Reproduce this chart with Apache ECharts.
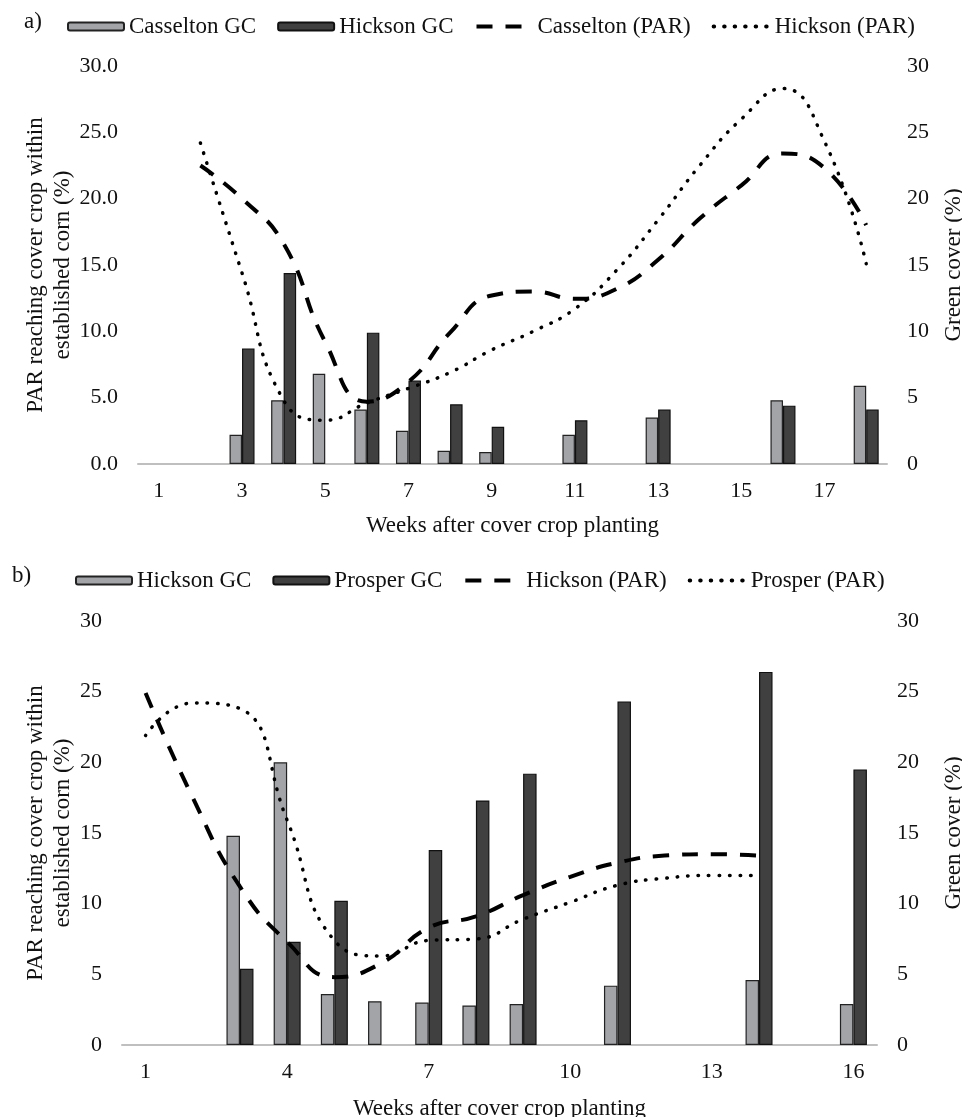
<!DOCTYPE html>
<html>
<head>
<meta charset="utf-8">
<script src="https://cdn.jsdelivr.net/npm/echarts@6/dist/echarts.min.js"></script>
<style>html,body{margin:0;padding:0;background:#fff}#chart{width:962px;height:1117px}</style>
</head>
<body>
<div id="chart"></div>
<script>
// ---- Panel a) ----
const weeksA = ['1','2','3','4','5','6','7','8','9','10','11','12','13','14','15','16','17','18'];
const casseltonGC_A = [null, null, 2.2, 4.8, 6.8, 4.1, 2.5, 1.0, 0.9, null, 2.2, null, 3.5, null, null, 4.8, null, 5.9];
const hicksonGC_A   = [null, null, 8.7, 14.4, null, 9.9, 6.3, 4.5, 2.8, null, 3.3, null, 4.1, null, null, 4.4, null, 4.1];
const casseltonPAR_A = [null, 22.5, 20.0, 16.6, 9.2, 4.7, 6.2, 9.9, 12.7, 13.0, 12.45, 13.2, 15.4, 18.5, 21.0, 23.4, 22.3, 18.0];
const hicksonPAR_A   = [null, 24.2, 14.4, 4.8, 3.3, 4.6, 5.7, 6.9, 8.6, 10.0, 11.7, 14.6, 18.4, 22.5, 26.0, 28.3, 24.3, 15.1];
const leftTicksA = ['0.0','5.0','10.0','15.0','20.0','25.0','30.0'];

// ---- Panel b) ----
const weeksB = ['1','2','3','4','5','6','7','8','9','10','11','12','13','14','15','16'];
const hicksonGC_B  = [null, null, 14.8, 20.0, 3.6, 3.1, 3.0, 2.8, 2.9, null, 4.2, null, null, 4.6, null, 2.9];
const prosperGC_B  = [null, null, 5.4, 7.3, 10.2, null, 13.8, 17.3, 19.2, null, 24.3, null, null, 26.4, null, 19.5];
const hicksonPAR_B = [24.9, 17.5, 11.2, 7.3, 4.8, 5.8, 8.3, 9.1, 10.6, 11.9, 12.9, 13.4, 13.5, 13.4, null, null];
const prosperPAR_B = [21.9, 24.2, 23.8, 15.9, 7.4, 6.3, 7.4, 7.5, 8.9, 10.1, 11.3, 11.8, 12.0, 12.0, null, null];

const FONT = 'Liberation Serif';
const TXT = '#111';
const GREY = '#a3a4a8', DARK = '#404040';

const chart = echarts.init(document.getElementById('chart'), null, {renderer: 'canvas'});

function catAxis(gridIndex, data, interval, nameGap) {
  return {
    type: 'category', gridIndex, data,
    axisTick: {show: false},
    axisLine: {lineStyle: {color: '#bfbfbf', width: 2}},
    axisLabel: {interval, color: TXT, fontFamily: FONT, fontSize: 22, margin: 16},
    name: 'Weeks after cover crop planting', nameLocation: 'middle', nameGap,
    nameMoveOverlap: false,
    nameTextStyle: {color: TXT, fontFamily: FONT, fontSize: 23}
  };
}
function valAxis(gridIndex, position, name, nameGap, fmt) {
  return {
    type: 'value', gridIndex, position, min: 0, max: 30, interval: 5,
    splitLine: {show: false}, axisLine: {show: false}, axisTick: {show: false},
    axisLabel: {color: TXT, fontFamily: FONT, fontSize: 22, margin: 20, formatter: fmt},
    name, nameLocation: 'middle', nameGap, nameRotate: 90,
    nameMoveOverlap: false,
    nameTextStyle: {color: TXT, fontFamily: FONT, fontSize: 23, lineHeight: 27}
  };
}
const barStyle = (c, b) => ({color: c, borderColor: b, borderWidth: 1.2});
const dashed = {color: '#000', width: 4, type: [16, 13]};
const dotted = {color: '#000', width: 3.5, type: [0.5, 10], cap: 'round'};
const hideSym = {opacity: 0};

const option = {
  animation: false,
  backgroundColor: '#fff',
  textStyle: {fontFamily: FONT},
  grid: [
    {left: 138, right: 75, top: 66, bottom: 653, containLabel: false, outerBoundsMode: 'none'},
    {left: 122, right: 85, top: 621, bottom: 72, containLabel: false, outerBoundsMode: 'none'}
  ],
  xAxis: [catAxis(0, weeksA, 1, 50), catAxis(1, weeksB, 2, 52)],
  yAxis: [
    valAxis(0, 'left', 'PAR reaching cover crop within\nestablished corn (%)', 62, v => leftTicksA[v / 5]),
    valAxis(0, 'right', 'Green cover (%)', 53, null),
    valAxis(1, 'left', 'PAR reaching cover crop within\nestablished corn (%)', 46, null),
    valAxis(1, 'right', 'Green cover (%)', 63, null)
  ],
  legend: [
    {
      left: 62, top: 10, itemWidth: 56, itemHeight: 8, itemGap: 21,
      textStyle: {color: TXT, fontFamily: FONT, fontSize: 23},
      lineStyle: {width: 4},
      data: ['Casselton GC', 'Hickson GC',
             {name: 'Casselton (PAR)', itemStyle: hideSym},
             {name: 'Hickson (PAR)', itemStyle: hideSym}],
      formatter: n => n.trim(), selectedMode: false
    },
    {
      left: 70, top: 564, itemWidth: 56, itemHeight: 8, itemGap: 21,
      textStyle: {color: TXT, fontFamily: FONT, fontSize: 23},
      lineStyle: {width: 4},
      data: ['Hickson GC ', 'Prosper GC',
             {name: 'Hickson (PAR) ', itemStyle: hideSym},
             {name: 'Prosper (PAR)', itemStyle: hideSym}],
      formatter: n => n.trim(), selectedMode: false
    }
  ],
  graphic: [
    {type: 'text', left: 24, top: 10, style: {text: 'a)', fontFamily: FONT, fontSize: 23, fill: TXT}},
    {type: 'text', left: 12, top: 564, style: {text: 'b)', fontFamily: FONT, fontSize: 23, fill: TXT}}
  ],
  series: [
    {name: 'Casselton GC', type: 'bar', xAxisIndex: 0, yAxisIndex: 1, data: casseltonGC_A, barWidth: 12.5, barGap: '0%', itemStyle: barStyle(GREY, '#222')},
    {name: 'Hickson GC', type: 'bar', xAxisIndex: 0, yAxisIndex: 1, data: hicksonGC_A, barWidth: 12.5, barGap: '0%', itemStyle: barStyle(DARK, '#111')},
    {name: 'Casselton (PAR)', type: 'line', xAxisIndex: 0, yAxisIndex: 0, data: casseltonPAR_A, smooth: 0.5, symbol: 'none', lineStyle: dashed, itemStyle: {color: '#000'}, z: 5},
    {name: 'Hickson (PAR)', type: 'line', xAxisIndex: 0, yAxisIndex: 0, data: hicksonPAR_A, smooth: 0.5, symbol: 'none', lineStyle: dotted, itemStyle: {color: '#000'}, z: 5},
    {name: 'Hickson GC ', type: 'bar', xAxisIndex: 1, yAxisIndex: 3, data: hicksonGC_B, barWidth: 13.5, barGap: '0%', itemStyle: barStyle(GREY, '#222')},
    {name: 'Prosper GC', type: 'bar', xAxisIndex: 1, yAxisIndex: 3, data: prosperGC_B, barWidth: 13.5, barGap: '0%', itemStyle: barStyle(DARK, '#111')},
    {name: 'Hickson (PAR) ', type: 'line', xAxisIndex: 1, yAxisIndex: 2, data: hicksonPAR_B, smooth: 0.5, symbol: 'none', lineStyle: dashed, itemStyle: {color: '#000'}, z: 5},
    {name: 'Prosper (PAR)', type: 'line', xAxisIndex: 1, yAxisIndex: 2, data: prosperPAR_B, smooth: 0.5, symbol: 'none', lineStyle: dotted, itemStyle: {color: '#000'}, z: 5}
  ]
};
chart.setOption(option);
</script>
</body>
</html>
